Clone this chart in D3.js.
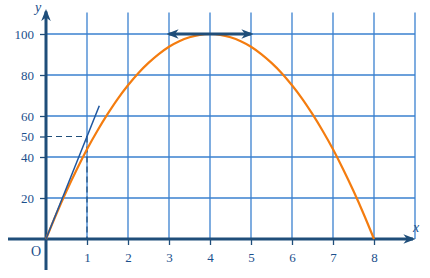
<!DOCTYPE html>
<html>
<head>
<meta charset="utf-8">
<script src="https://cdn.jsdelivr.net/npm/d3@7"></script>
<style>
  body { margin: 0; background: #fff; }
  svg { display: block; }
  text { font-family: "Liberation Serif", "DejaVu Serif", serif; fill: #1b4f8c; }
</style>
</head>
<body>
<div id="container"></div>
<script>
/* CONSTANTS AND GLOBALS */
const width = 430, height = 278;

// tick values
const xTicks = [1, 2, 3, 4, 5, 6, 7, 8];
const yTicks = [20, 40, 50, 60, 80, 100];
const xGrid = [1, 2, 3, 4, 5, 6, 7, 8, 9];
const yGrid = [20, 40, 60, 80, 100];

// parabola f(x) = 50x - 6.25x^2, sampled at the picture's key points
const curveX = [0, 0.25, 0.5, 0.75, 1, 1.25, 1.5, 1.75, 2, 2.25, 2.5, 2.75, 3, 3.25, 3.5, 3.75, 4,
  4.25, 4.5, 4.75, 5, 5.25, 5.5, 5.75, 6, 6.25, 6.5, 6.75, 7, 7.25, 7.5, 7.75, 8];
const curveY = [0, 12.1, 23.4, 33.9, 43.8, 52.7, 60.9, 68.4, 75, 80.9, 85.9, 90.2, 93.8, 96.5, 98.4, 99.6, 100,
  99.6, 98.4, 96.5, 93.8, 90.2, 85.9, 80.9, 75, 68.4, 60.9, 52.7, 43.8, 33.9, 23.4, 12.1, 0];

const tangent0 = [[0, 0], [1.3, 65]];
const tangentTop = [[3, 100], [5, 100]];
const dashH = [[0, 50], [1, 50]];
const dashV = [[1, 50], [1, 0]];

/* SCALES */
const xScale = d3.scaleLinear().domain([0, 9]).range([46, 415]);
const yScale = d3.scaleLinear().domain([0, 100]).range([239, 34]);

const svg = d3.select("#container").append("svg")
  .attr("width", width)
  .attr("height", height);

const axisCol = "#1f4e7a", gridCol = "#3a80cf";

// arrow markers
const defs = svg.append("defs");
function marker(id, col, size) {
  defs.append("marker")
    .attr("id", id)
    .attr("viewBox", "0 -5 10 10")
    .attr("refX", 8).attr("refY", 0)
    .attr("markerWidth", size).attr("markerHeight", size)
    .attr("orient", "auto-start-reverse")
    .append("path")
    .attr("d", "M0,-4L10,0L0,4L3,0Z")
    .attr("fill", col);
}
marker("arr", axisCol, 4);
marker("arrGrid", gridCol, 4);

// grid
svg.append("g").selectAll("line.vg")
  .data(xGrid)
  .join("line")
  .attr("x1", d => xScale(d)).attr("x2", d => xScale(d))
  .attr("y1", yScale(110.5)).attr("y2", yScale(0))
  .attr("stroke", gridCol).attr("stroke-width", 1.3);

svg.append("g").selectAll("line.hg")
  .data(yGrid)
  .join("line")
  .attr("x1", xScale(0)).attr("x2", xScale(9))
  .attr("y1", d => yScale(d)).attr("y2", d => yScale(d))
  .attr("stroke", gridCol).attr("stroke-width", 1.3);

// axes with d3 ticks
const xAxis = d3.axisBottom(xScale).tickValues(xTicks).tickSize(6).tickPadding(8).tickFormat(d3.format("d"));
const gx = svg.append("g").attr("transform", `translate(0,${yScale(0)})`).call(xAxis);
gx.select(".domain").remove();
gx.selectAll(".tick line").attr("stroke", axisCol).attr("stroke-width", 1.3);
gx.selectAll(".tick text").attr("font-size", 13).attr("font-family", "Liberation Serif").attr("fill", "#1b4f8c");

const yAxis = d3.axisLeft(yScale).tickValues(yTicks).tickSize(6).tickPadding(6).tickFormat(d3.format("d"));
const gy = svg.append("g").attr("transform", `translate(${xScale(0)},0)`).call(yAxis);
gy.select(".domain").remove();
gy.selectAll(".tick line").attr("stroke", axisCol).attr("stroke-width", 1.3);
gy.selectAll(".tick text").attr("font-size", 13).attr("font-family", "Liberation Serif").attr("fill", "#1b4f8c");

// dashed helper lines
const line = d3.line().x(d => xScale(d[0])).y(d => yScale(d[1]));
svg.append("path").attr("d", line(dashH))
  .attr("stroke", axisCol).attr("stroke-width", 1.2).attr("stroke-dasharray", "6,4").attr("fill", "none");
svg.append("path").attr("d", line(dashV))
  .attr("stroke", axisCol).attr("stroke-width", 1.2).attr("stroke-dasharray", "6,4").attr("fill", "none");

// axis lines
svg.append("line")
  .attr("x1", 8).attr("x2", xScale(9) - 2)
  .attr("y1", yScale(0)).attr("y2", yScale(0))
  .attr("stroke", axisCol).attr("stroke-width", 3)
  .attr("marker-end", "url(#arr)");
svg.append("line")
  .attr("x1", xScale(0)).attr("x2", xScale(0))
  .attr("y1", 270).attr("y2", yScale(111))
  .attr("stroke", axisCol).attr("stroke-width", 3)
  .attr("marker-end", "url(#arr)");

// curve
const pts = curveX.map((x, i) => [x, curveY[i]]);
svg.append("path")
  .attr("d", line.curve(d3.curveCatmullRom)(pts))
  .attr("fill", "none")
  .attr("stroke", "#f47c0f")
  .attr("stroke-width", 2.2);
line.curve(d3.curveLinear);

// tangents
svg.append("path").attr("d", line(tangent0))
  .attr("stroke", "#1f57a0").attr("stroke-width", 1.5).attr("fill", "none");
svg.append("path").attr("d", line(tangentTop))
  .attr("stroke", axisCol).attr("stroke-width", 3).attr("fill", "none")
  .attr("marker-start", "url(#arr)").attr("marker-end", "url(#arr)");

// labels
svg.append("text").attr("x", 35).attr("y", 12)
  .attr("font-size", 14).attr("font-style", "italic").text("y");
svg.append("text").attr("x", 413).attr("y", 232)
  .attr("font-size", 14).attr("font-style", "italic").text("x");
svg.append("text").attr("x", 31).attr("y", 256)
  .attr("font-size", 14).text("O");
</script>
</body>
</html>
